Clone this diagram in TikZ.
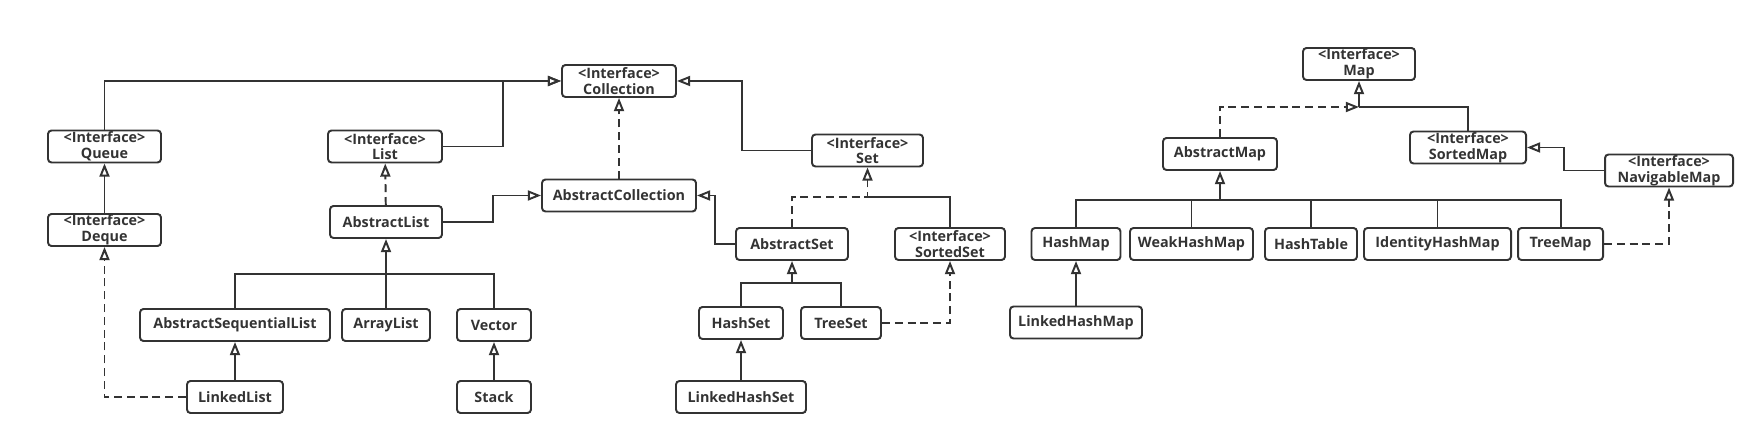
\documentclass[tikz,border=0pt]{standalone}
\usepackage{fontspec}
\setmainfont{Open Sans}
\usetikzlibrary{arrows.meta, calc}
\definecolor{ink}{HTML}{333333}
\tikzset{
  cls/.style={draw=ink, text=ink, line width=1.4pt, rounded corners=2.5pt,
    minimum width=#1*0.025cm, minimum height=0.8cm, inner sep=0pt, align=center,
    font=\fontsize{10.2}{11.2}\selectfont\bfseries},
  line/.style={draw=ink, line width=1.4pt},
  inh/.style={line, -{Triangle[open, length=0.33cm, width=0.25cm]}},
  impl/.style={inh, dash pattern=on 0.2cm off 0.12cm},
}

\begin{document}
\begin{tikzpicture}[x=0.025cm, y=-0.025cm]
    \useasboundingbox (0,0) rectangle (1764,445);
    % Collection side
    \node[cls=114] (coll) at (619,81) {<Interface>\\Collection};
    \node[cls=113] (queue) at (104.5,146.5) {<Interface>\\Queue};
    \node[cls=113] (deque) at (104.5,230) {<Interface>\\Deque};
    \node[cls=114] (list) at (385,146.5) {<Interface>\\List};
    \node[cls=112] (alist) at (386,222) {AbstractList};
    \node[cls=154] (acoll) at (619,195.5) {AbstractCollection};
    \node[cls=190] (aslist) at (235,325) {AbstractSequentialList};
    \node[cls=88] (arrlist) at (386,325) {ArrayList};
    \node[cls=74] (vector) at (494,325) {Vector};
    \node[cls=96] (llist) at (235,397) {LinkedList};
    \node[cls=74] (stack) at (494,397) {Stack};
    \node[cls=111] (set) at (867.5,150.5) {<Interface>\\Set};
    \node[cls=112] (aset) at (792,244) {AbstractSet};
    \node[cls=110] (sset) at (950,244) {<Interface>\\SortedSet};
    \node[cls=84] (hset) at (741,323) {HashSet};
    \node[cls=80] (tset) at (841,323) {TreeSet};
    \node[cls=130] (lhset) at (741,397) {LinkedHashSet};
    % Map side
    \node[cls=112] (map) at (1359,64) {<Interface>\\Map};
    \node[cls=114] (amap) at (1220,154) {AbstractMap};
    \node[cls=116] (smap) at (1468,147.5) {<Interface>\\SortedMap};
    \node[cls=128] (nmap) at (1669,170.5) {<Interface>\\NavigableMap};
    \node[cls=89] (hmap) at (1076,244) {HashMap};
    \node[cls=123] (whmap) at (1191.5,244) {WeakHashMap};
    \node[cls=92] (htab) at (1311,244) {HashTable};
    \node[cls=147] (ihmap) at (1437.5,244) {IdentityHashMap};
    \node[cls=85] (tmap) at (1560.5,244) {TreeMap};
    \node[cls=132] (lhmap) at (1076,322.5) {LinkedHashMap};

    \coordinate (lsplit) at (386,274);
    \coordinate (ssplit) at (867.5,197);
    \coordinate (hsplit) at (792,283);
    \coordinate (msplit) at (1359,107);
    \coordinate (asplit) at (1220,200);

    \draw[inh] (queue) |- (coll);
    \draw[inh] (list.east) -- ++(60,0) |- (coll.west);
    \draw[inh] (deque) -- (queue);
    \draw[impl] (alist) -- (list);
    \draw[inh] (alist.east) -- ++(50,0) |- (acoll.west);
    \draw[impl] (acoll) -- (coll);
    \draw[inh] (set.west) -- ++(-69,0) |- (coll.east);
    \draw[inh] (aset.west) -- ++(-20,0) |- (acoll.east);
    \foreach \n in {aslist, vector}
        \draw[line] (\n) |- (lsplit);
    \draw[inh] (arrlist) -- (alist);
    \draw[inh] (llist) -- (aslist);
    \draw[inh] (stack) -- (vector);
    \draw[impl] (llist) -| (deque);
    \draw[impl] (aset) |- (ssplit) -- (set);
    \draw[line] (sset) |- (ssplit);
    \foreach \n in {hset, tset}
        \draw[line] (\n) |- (hsplit);
    \draw[inh] (hsplit) -- (aset);
    \draw[impl] (tset) -| (sset);
    \draw[inh] (lhset) -- (hset);

    \draw[impl] (amap) |- (msplit);
    \draw[line] (smap) |- (msplit);
    \draw[inh] (msplit) -- (map);
    \draw[inh] (nmap.west) -- ++(-40,0) |- (smap.east);
    \foreach \n in {hmap, whmap, htab, ihmap, tmap}
        \draw[line] (\n) |- (asplit);
    \draw[inh] (asplit) -- (amap);
    \draw[impl] (tmap) -| (nmap);
    \draw[inh] (lhmap) -- (hmap);
\end{tikzpicture}
\end{document}
